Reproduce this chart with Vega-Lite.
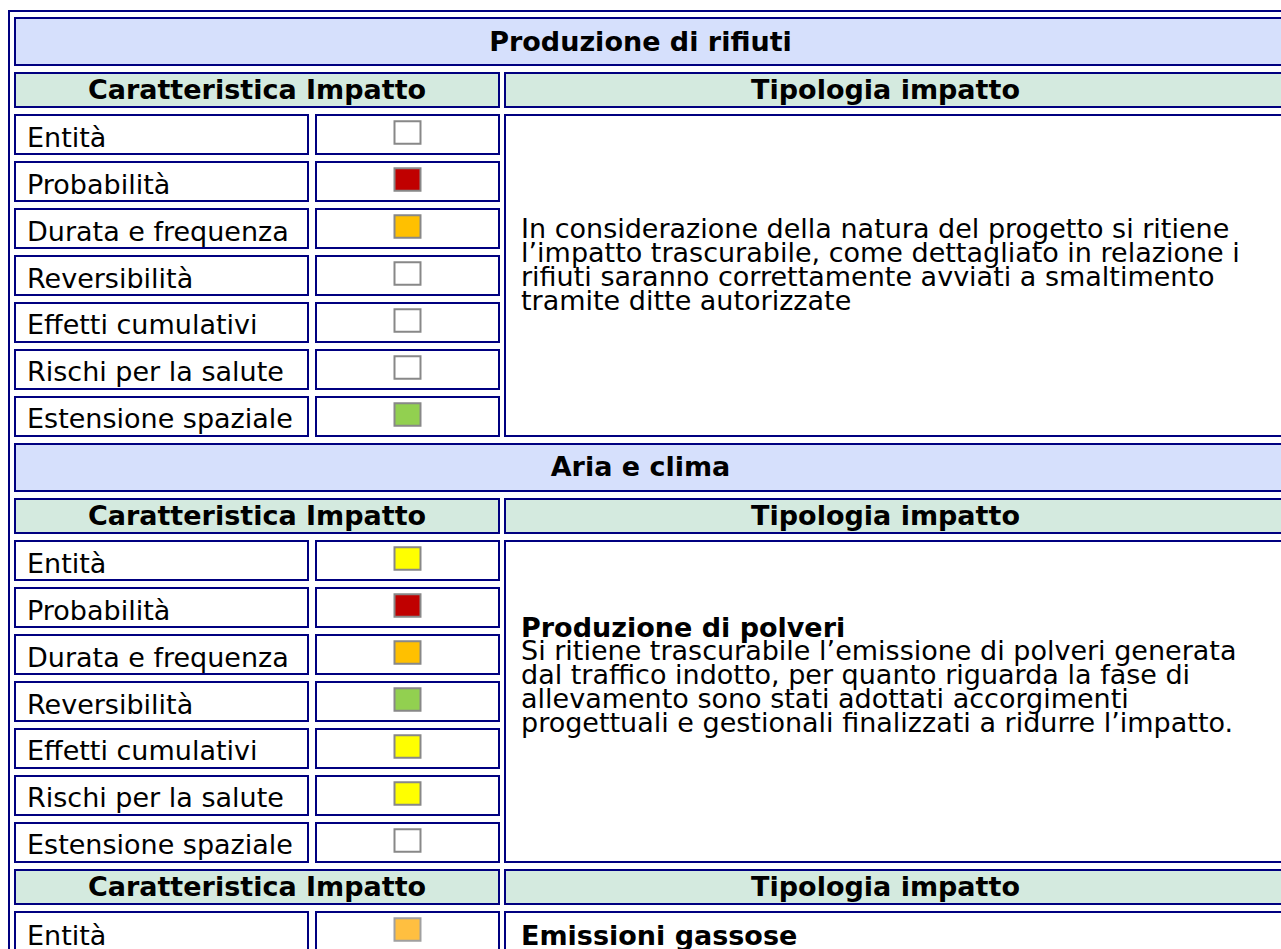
{
  "$schema": "https://vega.github.io/schema/vega-lite/v6.json",
  "padding": {"left": 8, "top": 10, "right": 0, "bottom": 0},
  "background": "#ffffff",
  "config": {
    "view": {"stroke": null},
    "text": {"font": "DejaVu Sans", "fontSize": 27, "color": "#000000"}
  },
  "datasets": {
    "caratteristiche": [
      {"gruppo": "rifiuti", "caratteristica": "Entità", "livello": "nullo"},
      {"gruppo": "rifiuti", "caratteristica": "Probabilità", "livello": "alto"},
      {"gruppo": "rifiuti", "caratteristica": "Durata e frequenza", "livello": "medio"},
      {"gruppo": "rifiuti", "caratteristica": "Reversibilità", "livello": "nullo"},
      {"gruppo": "rifiuti", "caratteristica": "Effetti cumulativi", "livello": "nullo"},
      {"gruppo": "rifiuti", "caratteristica": "Rischi per la salute", "livello": "nullo"},
      {"gruppo": "rifiuti", "caratteristica": "Estensione spaziale", "livello": "basso"},
      {"gruppo": "polveri", "caratteristica": "Entità", "livello": "medio-basso"},
      {"gruppo": "polveri", "caratteristica": "Probabilità", "livello": "alto"},
      {"gruppo": "polveri", "caratteristica": "Durata e frequenza", "livello": "medio"},
      {"gruppo": "polveri", "caratteristica": "Reversibilità", "livello": "basso"},
      {"gruppo": "polveri", "caratteristica": "Effetti cumulativi", "livello": "medio-basso"},
      {"gruppo": "polveri", "caratteristica": "Rischi per la salute", "livello": "medio-basso"},
      {"gruppo": "polveri", "caratteristica": "Estensione spaziale", "livello": "nullo"},
      {"gruppo": "gas", "caratteristica": "Entità", "livello": "medio (stima)"}
    ],
    "descrizioni": [
      {"gruppo": "rifiuti", "sezione": "Produzione di rifiuti", "titolo": "", "descrizione": "In considerazione della natura del progetto si ritiene\nl’impatto trascurabile, come dettagliato in relazione i\nrifiuti saranno correttamente avviati a smaltimento\ntramite ditte autorizzate"},
      {"gruppo": "polveri", "sezione": "Aria e clima", "titolo": "Produzione di polveri", "descrizione": "Si ritiene trascurabile l’emissione di polveri generata\ndal traffico indotto, per quanto riguarda la fase di\nallevamento sono stati adottati accorgimenti\nprogettuali e gestionali finalizzati a ridurre l’impatto."},
      {"gruppo": "gas", "sezione": "Aria e clima", "titolo": "Emissioni gassose", "descrizione": ""}
    ]
  },
  "spacing": -1,
  "hconcat": [
    {
      "spacing": 0,
      "vconcat": [
        {
          "width": 7, "height": 2,
          "data": {"values": []},
          "view": {"fill": "#000080", "stroke": null},
          "mark": "text",
          "encoding": {"text": {"value": ""}}
        },
        {
          "width": 2, "height": 940,
          "data": {"values": []},
          "view": {"fill": "#000080", "stroke": null},
          "mark": "text",
          "encoding": {"text": {"value": ""}}
        }
      ]
    },
    {
      "spacing": 5,
      "vconcat": [
        {
          "width": 1267, "height": 2,
          "data": {"values": []},
          "view": {"fill": "#000080", "stroke": null},
          "mark": "text",
          "encoding": {"text": {"value": ""}}
        },
        {
          "spacing": 6,
          "vconcat": [
            {
              "width": 1267, "height": 47,
              "data": {"name": "descrizioni"},
              "transform": [{"filter": "datum.gruppo == 'rifiuti'"}],
              "view": {"fill": "#d6e0fc", "stroke": "#000080", "strokeWidth": 2},
              "mark": {"type": "text", "fontWeight": "bold", "baseline": "middle", "dx": -8, "dy": 1},
              "encoding": {"text": {"field": "sezione"}}
            },
            {
              "spacing": 4,
              "hconcat": [
                {
                  "width": 484, "height": 34,
                  "data": {"values": [{"colonna": "Caratteristica Impatto"}]},
                  "view": {"fill": "#d4eadf", "stroke": "#000080", "strokeWidth": 2},
                  "mark": {"type": "text", "fontWeight": "bold", "baseline": "middle", "dy": 1},
                  "encoding": {"text": {"field": "colonna"}}
                },
                {
                  "width": 777, "height": 34,
                  "data": {"values": [{"colonna": "Tipologia impatto"}]},
                  "view": {"fill": "#d4eadf", "stroke": "#000080", "strokeWidth": 2},
                  "mark": {"type": "text", "fontWeight": "bold", "baseline": "middle", "dx": -8, "dy": 1},
                  "encoding": {"text": {"field": "colonna"}}
                }
              ]
            },
            {
              "spacing": 4,
              "hconcat": [
                {
                  "spacing": 6,
                  "hconcat": [
                    {
                      "width": 293, "height": 321,
                      "data": {"name": "caratteristiche"},
                      "transform": [{"filter": "datum.gruppo == 'rifiuti'"}],
                      "layer": [
                        {
                          "mark": {"type": "rect", "fill": "#ffffff", "stroke": "#000080", "strokeWidth": 2},
                          "encoding": {
                            "x": {"field": "gruppo", "type": "nominal", "scale": {"type": "band", "paddingInner": 0, "paddingOuter": 0}, "axis": null},
                            "y": {"field": "caratteristica", "type": "nominal", "sort": ["Entità", "Probabilità", "Durata e frequenza", "Reversibilità", "Effetti cumulativi", "Rischi per la salute", "Estensione spaziale"], "scale": {"type": "band", "paddingInner": 0.1702, "paddingOuter": 0}, "axis": null}
                          }
                        },
                        {
                          "mark": {"type": "text", "align": "left", "baseline": "middle", "dx": 12, "dy": 4},
                          "encoding": {
                            "x": {"field": "gruppo", "type": "nominal", "bandPosition": 0, "scale": {"type": "band", "paddingInner": 0, "paddingOuter": 0}, "axis": null},
                            "y": {"field": "caratteristica", "type": "nominal", "sort": ["Entità", "Probabilità", "Durata e frequenza", "Reversibilità", "Effetti cumulativi", "Rischi per la salute", "Estensione spaziale"], "scale": {"type": "band", "paddingInner": 0.1702, "paddingOuter": 0}, "axis": null},
                            "text": {"field": "caratteristica"}
                          }
                        }
                      ]
                    },
                    {
                      "width": 183, "height": 321,
                      "data": {"name": "caratteristiche"},
                      "transform": [{"filter": "datum.gruppo == 'rifiuti'"}],
                      "layer": [
                        {
                          "mark": {"type": "rect", "fill": "#ffffff", "stroke": "#000080", "strokeWidth": 2},
                          "encoding": {
                            "x": {"field": "gruppo", "type": "nominal", "scale": {"type": "band", "paddingInner": 0, "paddingOuter": 0}, "axis": null},
                            "y": {"field": "caratteristica", "type": "nominal", "sort": ["Entità", "Probabilità", "Durata e frequenza", "Reversibilità", "Effetti cumulativi", "Rischi per la salute", "Estensione spaziale"], "scale": {"type": "band", "paddingInner": 0.1702, "paddingOuter": 0}, "axis": null}
                          }
                        },
                        {
                          "mark": {"type": "point", "shape": "M-1.15,-1H1.15V1H-1.15Z", "size": 511, "filled": true, "opacity": 1, "stroke": "#888888", "strokeWidth": 2, "yOffset": -2},
                          "encoding": {
                            "x": {"field": "gruppo", "type": "nominal", "scale": {"type": "band", "paddingInner": 0, "paddingOuter": 0}, "axis": null},
                            "y": {"field": "caratteristica", "type": "nominal", "sort": ["Entità", "Probabilità", "Durata e frequenza", "Reversibilità", "Effetti cumulativi", "Rischi per la salute", "Estensione spaziale"], "scale": {"type": "band", "paddingInner": 0.1702, "paddingOuter": 0}, "axis": null},
                            "fill": {"field": "livello", "type": "nominal", "scale": {"domain": ["nullo", "basso", "medio-basso", "medio", "medio (stima)", "alto"], "range": ["#ffffff", "#92d050", "#ffff00", "#ffc000", "#ffbf40", "#c00000"]}, "legend": null}
                          }
                        }
                      ]
                    }
                  ]
                },
                {
                  "width": 777, "height": 321,
                  "data": {"name": "descrizioni"},
                  "transform": [{"filter": "datum.gruppo == 'rifiuti'"}],
                  "view": {"fill": "#ffffff", "stroke": "#000080", "strokeWidth": 2},
                  "mark": {"type": "text", "align": "left", "baseline": "middle", "lineBreak": "\n", "lineHeight": 24, "dx": 16, "dy": -46},
                  "encoding": {
                    "x": {"field": "gruppo", "type": "nominal", "bandPosition": 0, "scale": {"type": "band", "paddingInner": 0, "paddingOuter": 0}, "axis": null},
                    "text": {"field": "descrizione"}
                  }
                }
              ]
            },
            {
              "width": 1267, "height": 47,
              "data": {"name": "descrizioni"},
              "transform": [{"filter": "datum.gruppo == 'polveri'"}],
              "view": {"fill": "#d6e0fc", "stroke": "#000080", "strokeWidth": 2},
              "mark": {"type": "text", "fontWeight": "bold", "baseline": "middle", "dx": -8, "dy": 0},
              "encoding": {"text": {"field": "sezione"}}
            },
            {
              "spacing": 4,
              "hconcat": [
                {
                  "width": 484, "height": 34,
                  "data": {"values": [{"colonna": "Caratteristica Impatto"}]},
                  "view": {"fill": "#d4eadf", "stroke": "#000080", "strokeWidth": 2},
                  "mark": {"type": "text", "fontWeight": "bold", "baseline": "middle", "dy": 1},
                  "encoding": {"text": {"field": "colonna"}}
                },
                {
                  "width": 777, "height": 34,
                  "data": {"values": [{"colonna": "Tipologia impatto"}]},
                  "view": {"fill": "#d4eadf", "stroke": "#000080", "strokeWidth": 2},
                  "mark": {"type": "text", "fontWeight": "bold", "baseline": "middle", "dx": -8, "dy": 1},
                  "encoding": {"text": {"field": "colonna"}}
                }
              ]
            },
            {
              "spacing": 4,
              "hconcat": [
                {
                  "spacing": 6,
                  "hconcat": [
                    {
                      "width": 293, "height": 321,
                      "data": {"name": "caratteristiche"},
                      "transform": [{"filter": "datum.gruppo == 'polveri'"}],
                      "layer": [
                        {
                          "mark": {"type": "rect", "fill": "#ffffff", "stroke": "#000080", "strokeWidth": 2},
                          "encoding": {
                            "x": {"field": "gruppo", "type": "nominal", "scale": {"type": "band", "paddingInner": 0, "paddingOuter": 0}, "axis": null},
                            "y": {"field": "caratteristica", "type": "nominal", "sort": ["Entità", "Probabilità", "Durata e frequenza", "Reversibilità", "Effetti cumulativi", "Rischi per la salute", "Estensione spaziale"], "scale": {"type": "band", "paddingInner": 0.1702, "paddingOuter": 0}, "axis": null}
                          }
                        },
                        {
                          "mark": {"type": "text", "align": "left", "baseline": "middle", "dx": 12, "dy": 4},
                          "encoding": {
                            "x": {"field": "gruppo", "type": "nominal", "bandPosition": 0, "scale": {"type": "band", "paddingInner": 0, "paddingOuter": 0}, "axis": null},
                            "y": {"field": "caratteristica", "type": "nominal", "sort": ["Entità", "Probabilità", "Durata e frequenza", "Reversibilità", "Effetti cumulativi", "Rischi per la salute", "Estensione spaziale"], "scale": {"type": "band", "paddingInner": 0.1702, "paddingOuter": 0}, "axis": null},
                            "text": {"field": "caratteristica"}
                          }
                        }
                      ]
                    },
                    {
                      "width": 183, "height": 321,
                      "data": {"name": "caratteristiche"},
                      "transform": [{"filter": "datum.gruppo == 'polveri'"}],
                      "layer": [
                        {
                          "mark": {"type": "rect", "fill": "#ffffff", "stroke": "#000080", "strokeWidth": 2},
                          "encoding": {
                            "x": {"field": "gruppo", "type": "nominal", "scale": {"type": "band", "paddingInner": 0, "paddingOuter": 0}, "axis": null},
                            "y": {"field": "caratteristica", "type": "nominal", "sort": ["Entità", "Probabilità", "Durata e frequenza", "Reversibilità", "Effetti cumulativi", "Rischi per la salute", "Estensione spaziale"], "scale": {"type": "band", "paddingInner": 0.1702, "paddingOuter": 0}, "axis": null}
                          }
                        },
                        {
                          "mark": {"type": "point", "shape": "M-1.15,-1H1.15V1H-1.15Z", "size": 511, "filled": true, "opacity": 1, "stroke": "#888888", "strokeWidth": 2, "yOffset": -2},
                          "encoding": {
                            "x": {"field": "gruppo", "type": "nominal", "scale": {"type": "band", "paddingInner": 0, "paddingOuter": 0}, "axis": null},
                            "y": {"field": "caratteristica", "type": "nominal", "sort": ["Entità", "Probabilità", "Durata e frequenza", "Reversibilità", "Effetti cumulativi", "Rischi per la salute", "Estensione spaziale"], "scale": {"type": "band", "paddingInner": 0.1702, "paddingOuter": 0}, "axis": null},
                            "fill": {"field": "livello", "type": "nominal", "scale": {"domain": ["nullo", "basso", "medio-basso", "medio", "medio (stima)", "alto"], "range": ["#ffffff", "#92d050", "#ffff00", "#ffc000", "#ffbf40", "#c00000"]}, "legend": null}
                          }
                        }
                      ]
                    }
                  ]
                },
                {
                  "width": 777, "height": 321,
                  "data": {"name": "descrizioni"},
                  "transform": [{"filter": "datum.gruppo == 'polveri'"}],
                  "view": {"fill": "#ffffff", "stroke": "#000080", "strokeWidth": 2},
                  "layer": [
                    {
                      "mark": {"type": "text", "align": "left", "baseline": "middle", "fontWeight": "bold", "dx": 16, "dy": -73},
                      "encoding": {
                        "x": {"field": "gruppo", "type": "nominal", "bandPosition": 0, "scale": {"type": "band", "paddingInner": 0, "paddingOuter": 0}, "axis": null},
                        "text": {"field": "titolo"}
                      }
                    },
                    {
                      "mark": {"type": "text", "align": "left", "baseline": "middle", "lineBreak": "\n", "lineHeight": 24, "dx": 16, "dy": -50},
                      "encoding": {
                        "x": {"field": "gruppo", "type": "nominal", "bandPosition": 0, "scale": {"type": "band", "paddingInner": 0, "paddingOuter": 0}, "axis": null},
                        "text": {"field": "descrizione"}
                      }
                    }
                  ]
                }
              ]
            },
            {
              "spacing": 4,
              "hconcat": [
                {
                  "width": 484, "height": 34,
                  "data": {"values": [{"colonna": "Caratteristica Impatto"}]},
                  "view": {"fill": "#d4eadf", "stroke": "#000080", "strokeWidth": 2},
                  "mark": {"type": "text", "fontWeight": "bold", "baseline": "middle", "dy": 1},
                  "encoding": {"text": {"field": "colonna"}}
                },
                {
                  "width": 777, "height": 34,
                  "data": {"values": [{"colonna": "Tipologia impatto"}]},
                  "view": {"fill": "#d4eadf", "stroke": "#000080", "strokeWidth": 2},
                  "mark": {"type": "text", "fontWeight": "bold", "baseline": "middle", "dx": -8, "dy": 1},
                  "encoding": {"text": {"field": "colonna"}}
                }
              ]
            },
            {
              "spacing": 4,
              "hconcat": [
                {
                  "spacing": 6,
                  "hconcat": [
                    {
                      "width": 293, "height": 39,
                      "data": {"name": "caratteristiche"},
                      "transform": [{"filter": "datum.gruppo == 'gas'"}],
                      "layer": [
                        {
                          "mark": {"type": "rect", "fill": "#ffffff", "stroke": "#000080", "strokeWidth": 2},
                          "encoding": {
                            "x": {"field": "gruppo", "type": "nominal", "scale": {"type": "band", "paddingInner": 0, "paddingOuter": 0}, "axis": null},
                            "y": {"field": "caratteristica", "type": "nominal", "sort": ["Entità", "Probabilità", "Durata e frequenza", "Reversibilità", "Effetti cumulativi", "Rischi per la salute", "Estensione spaziale"], "scale": {"type": "band", "paddingInner": 0.1702, "paddingOuter": 0}, "axis": null}
                          }
                        },
                        {
                          "mark": {"type": "text", "align": "left", "baseline": "middle", "dx": 12, "dy": 5},
                          "encoding": {
                            "x": {"field": "gruppo", "type": "nominal", "bandPosition": 0, "scale": {"type": "band", "paddingInner": 0, "paddingOuter": 0}, "axis": null},
                            "y": {"field": "caratteristica", "type": "nominal", "sort": ["Entità", "Probabilità", "Durata e frequenza", "Reversibilità", "Effetti cumulativi", "Rischi per la salute", "Estensione spaziale"], "scale": {"type": "band", "paddingInner": 0.1702, "paddingOuter": 0}, "axis": null},
                            "text": {"field": "caratteristica"}
                          }
                        }
                      ]
                    },
                    {
                      "width": 183, "height": 39,
                      "data": {"name": "caratteristiche"},
                      "transform": [{"filter": "datum.gruppo == 'gas'"}],
                      "layer": [
                        {
                          "mark": {"type": "rect", "fill": "#ffffff", "stroke": "#000080", "strokeWidth": 2},
                          "encoding": {
                            "x": {"field": "gruppo", "type": "nominal", "scale": {"type": "band", "paddingInner": 0, "paddingOuter": 0}, "axis": null},
                            "y": {"field": "caratteristica", "type": "nominal", "sort": ["Entità", "Probabilità", "Durata e frequenza", "Reversibilità", "Effetti cumulativi", "Rischi per la salute", "Estensione spaziale"], "scale": {"type": "band", "paddingInner": 0.1702, "paddingOuter": 0}, "axis": null}
                          }
                        },
                        {
                          "mark": {"type": "point", "shape": "M-1.15,-1H1.15V1H-1.15Z", "size": 511, "filled": true, "opacity": 1, "stroke": "#a0a0a0", "strokeWidth": 2, "yOffset": -2},
                          "encoding": {
                            "x": {"field": "gruppo", "type": "nominal", "scale": {"type": "band", "paddingInner": 0, "paddingOuter": 0}, "axis": null},
                            "y": {"field": "caratteristica", "type": "nominal", "sort": ["Entità", "Probabilità", "Durata e frequenza", "Reversibilità", "Effetti cumulativi", "Rischi per la salute", "Estensione spaziale"], "scale": {"type": "band", "paddingInner": 0.1702, "paddingOuter": 0}, "axis": null},
                            "fill": {"field": "livello", "type": "nominal", "scale": {"domain": ["nullo", "basso", "medio-basso", "medio", "medio (stima)", "alto"], "range": ["#ffffff", "#92d050", "#ffff00", "#ffc000", "#ffbf40", "#c00000"]}, "legend": null}
                          }
                        }
                      ]
                    }
                  ]
                },
                {
                  "width": 777, "height": 39,
                  "data": {"name": "descrizioni"},
                  "transform": [{"filter": "datum.gruppo == 'gas'"}],
                  "view": {"fill": "#ffffff", "stroke": "#000080", "strokeWidth": 2},
                  "mark": {"type": "text", "align": "left", "baseline": "middle", "fontWeight": "bold", "dx": 16, "dy": 5},
                  "encoding": {
                    "x": {"field": "gruppo", "type": "nominal", "bandPosition": 0, "scale": {"type": "band", "paddingInner": 0, "paddingOuter": 0}, "axis": null},
                    "text": {"field": "titolo"}
                  }
                }
              ]
            }
          ]
        }
      ]
    }
  ]
}
